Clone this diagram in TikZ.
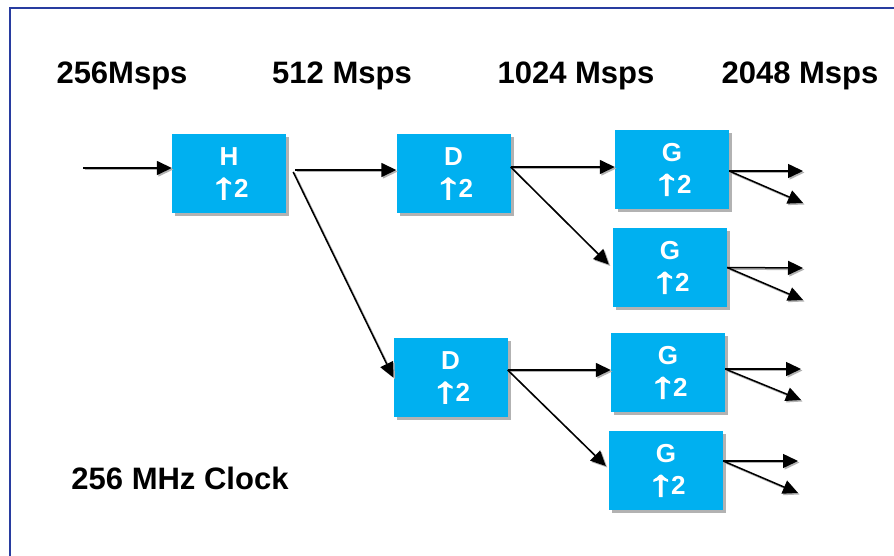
\documentclass[tikz,border=0pt]{standalone}
\usepackage{fontspec}
\usepackage{graphicx}
\setmainfont{Liberation Sans}
\newfontfamily\arrowfont[FakeBold=2.5]{Liberation Sans Bold}
\usetikzlibrary{arrows.meta,shadows}
\definecolor{boxcyan}{RGB}{0,176,240}
\definecolor{framebl}{RGB}{40,60,160}
\definecolor{shadowgr}{RGB}{178,178,178}
% upward arrow glyph for the interpolation factor
\newcommand{\upfac}{\raisebox{-1pt}{\scalebox{2.2}[1.4]{\arrowfont ↑}}\kern-4pt 2}
\begin{document}
\begin{tikzpicture}[x=1pt,y=-1pt,
  upbox/.style={fill=boxcyan, minimum width=114pt, minimum height=79pt,
    inner sep=0pt, text=white, align=center,
    font=\bfseries\fontsize{26}{32}\selectfont,
    drop shadow={shadow xshift=3pt, shadow yshift=-3pt, fill=shadowgr, opacity=1}},
  rate/.style={font=\bfseries\fontsize{31}{36}\selectfont},
  flow/.style={line width=1.5pt, -{Triangle[length=15pt,width=14pt]},
    preaction={draw=shadowgr, line width=1.5pt,
      -{Triangle[length=15pt,width=14pt]},
      transform canvas={xshift=1.5pt,yshift=-1.5pt}}}
]
\useasboundingbox (0,0) rectangle (894,556);
\fill[white] (0,0) rectangle (894,556);
% frame edges
\draw[framebl, line width=2pt] (10,556) -- (10,8) -- (894,8);

% sample-rate headings
\node[rate] (r1) at (122,76) {256Msps};
\node[rate] (r2) at (342,76) {512 Msps};
\node[rate] (r3) at (576,76) {1024 Msps};
\node[rate] (r4) at (800,76) {2048 Msps};
\node[rate] (clk) at (180,478) {256 MHz Clock};

% interpolation stages
\node[upbox] (H)  at (229,173.5) {H\\\upfac};
\node[upbox] (D1) at (453.5,173.5) {D\\\upfac};
\node[upbox] (D2) at (450.5,377.5) {D\\\upfac};
\node[upbox] (G1) at (672,169.5) {G\\\upfac};
\node[upbox] (G2) at (670,267.5) {G\\\upfac};
\node[upbox] (G3) at (668,372.5) {G\\\upfac};
\node[upbox] (G4) at (666,470.5) {G\\\upfac};

% free ends
\coordinate (in) at (83,168);
\coordinate (o1a) at (803,171); \coordinate (o1b) at (803,203);
\coordinate (o2a) at (803,268); \coordinate (o2b) at (803,300);
\coordinate (o3a) at (801,369); \coordinate (o3b) at (801,400);
\coordinate (o4a) at (798,461); \coordinate (o4b) at (798,493);

% connectors
\draw[flow] (in) -- ([yshift=5.5pt]H.west);
\draw[flow] ([xshift=9pt,yshift=3.5pt]H.east) -- ([yshift=3.5pt]D1.west);
\draw[flow] ([xshift=7pt,yshift=1.5pt]H.east) -- (D2.west);
\draw[flow] ([yshift=6.5pt]D1.east) -- ([yshift=2.5pt]G1.west);
\draw[flow] ([yshift=6.5pt]D1.east) -- ([xshift=-4pt,yshift=3pt]G2.west);
\draw[flow] ([yshift=7.5pt]D2.east) -- ([yshift=2.5pt]G3.west);
\draw[flow] ([yshift=7.5pt]D2.east) -- ([xshift=-3pt,yshift=4.5pt]G4.west);
\draw[flow] ([yshift=-1.5pt]G1.east) -- (o1a);
\draw[flow] ([yshift=-1.5pt]G1.east) -- (o1b);
\draw[flow] (G2.east) -- (o2a);
\draw[flow] (G2.east) -- (o2b);
\draw[flow] ([yshift=3.5pt]G3.east) -- (o3a);
\draw[flow] ([yshift=3.5pt]G3.east) -- (o3b);
\draw[flow] ([yshift=9.5pt]G4.east) -- (o4a);
\draw[flow] ([yshift=9.5pt]G4.east) -- (o4b);
\end{tikzpicture}
\end{document}
